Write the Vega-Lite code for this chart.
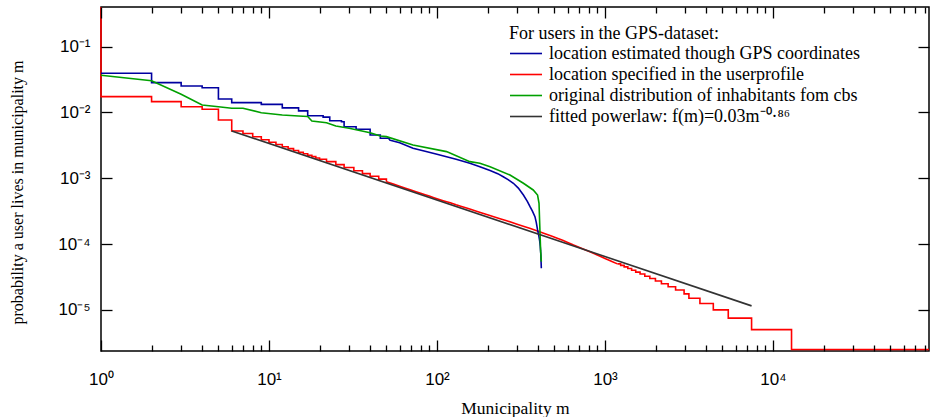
{
  "$schema": "https://vega.github.io/schema/vega-lite/v6.json",
  "width": 828,
  "height": 344,
  "autosize": {"type": "none"},
  "padding": {"left": 101, "top": 7, "right": 2, "bottom": 66},
  "background": "white",
  "config": {
    "view": {"stroke": "black", "strokeWidth": 1.5},
    "axis": {
      "domain": false, "grid": false, "tickColor": "black", "tickWidth": 1.3, "zindex": 2,
      "labelFont": "Liberation Sans", "labelFontSize": 17, "labelColor": "black",
      "titleFont": "Liberation Serif", "titleFontSize": 17, "titleFontWeight": "normal", "titleColor": "black",
      "labelFlush": false, "labelOverlap": false, "labelBound": false
    }
  },
  "data": {"values": [
    {"s":"red","m":1,"p":0.401},{"s":"red","m":1,"p":0.0174},{"s":"red","m":2,"p":0.0146},{"s":"red","m":3,"p":0.01225},
    {"s":"red","m":4,"p":0.0112},{"s":"red","m":5,"p":0.00769},{"s":"red","m":6,"p":0.00524},{"s":"red","m":7,"p":0.0048},
    {"s":"red","m":8,"p":0.00428},{"s":"red","m":9,"p":0.00386},{"s":"red","m":10,"p":0.00353},{"s":"red","m":11,"p":0.00326},
    {"s":"red","m":12,"p":0.00302},{"s":"red","m":13,"p":0.00282},{"s":"red","m":14,"p":0.00265},{"s":"red","m":15,"p":0.00249},
    {"s":"red","m":16,"p":0.00236},{"s":"red","m":17,"p":0.00224},{"s":"red","m":18,"p":0.00213},{"s":"red","m":19,"p":0.00203},
    {"s":"red","m":20,"p":0.00195},{"s":"red","m":22,"p":0.00179},{"s":"red","m":25,"p":0.00161},{"s":"red","m":28,"p":0.00146},
    {"s":"red","m":32,"p":0.0013},{"s":"red","m":36,"p":0.001175},{"s":"red","m":40,"p":0.001074},{"s":"red","m":45,"p":0.000971},
    {"s":"red","m":50,"p":0.000887},{"s":"red","m":55,"p":0.000817},{"s":"red","m":60,"p":0.000759},{"s":"red","m":65,"p":0.000708},
    {"s":"red","m":70,"p":0.000664},{"s":"red","m":75,"p":0.000625},{"s":"red","m":80,"p":0.000592},{"s":"red","m":85,"p":0.000562},
    {"s":"red","m":90,"p":0.000536},{"s":"red","m":95,"p":0.000511},{"s":"red","m":100,"p":0.000489},{"s":"red","m":110,"p":0.000453},
    {"s":"red","m":120,"p":0.000423},{"s":"red","m":130,"p":0.000395},{"s":"red","m":140,"p":0.000373},{"s":"red","m":150,"p":0.000352},
    {"s":"red","m":160,"p":0.000334},{"s":"red","m":170,"p":0.000318},{"s":"red","m":185,"p":0.000297},{"s":"red","m":200,"p":0.000279},
    {"s":"red","m":220,"p":0.000258},{"s":"red","m":240,"p":0.000241},{"s":"red","m":260,"p":0.000226},{"s":"red","m":280,"p":0.000212},
    {"s":"red","m":300,"p":0.0002},{"s":"red","m":330,"p":0.000185},{"s":"red","m":360,"p":0.000172},{"s":"red","m":400,"p":0.000157},
    {"s":"red","m":440,"p":0.000144},{"s":"red","m":480,"p":0.000133},{"s":"red","m":520,"p":0.000123},{"s":"red","m":560,"p":0.000114},
    {"s":"red","m":600,"p":0.000106},{"s":"red","m":650,"p":0.0000968},{"s":"red","m":700,"p":0.0000897},{"s":"red","m":780,"p":0.00008},
    {"s":"red","m":840,"p":0.0000736},{"s":"red","m":900,"p":0.0000682},{"s":"red","m":950,"p":0.0000641},{"s":"red","m":1000,"p":0.0000603},
    {"s":"red","m":1050,"p":0.0000571},{"s":"red","m":1100,"p":0.0000543},{"s":"red","m":1186,"p":0.00005},{"s":"red","m":1240,"p":0.0000475},
    {"s":"red","m":1301,"p":0.000045},{"s":"red","m":1368,"p":0.0000425},{"s":"red","m":1441,"p":0.00004},{"s":"red","m":1524,"p":0.0000375},
    {"s":"red","m":1618,"p":0.000035},{"s":"red","m":1726,"p":0.0000325},{"s":"red","m":1850,"p":0.00003},{"s":"red","m":1997,"p":0.0000275},
    {"s":"red","m":2168,"p":0.000025},{"s":"red","m":2377,"p":0.0000225},{"s":"red","m":2633,"p":0.00002},{"s":"red","m":2958,"p":0.0000175},
    {"s":"red","m":3160,"p":0.000015},{"s":"red","m":3675,"p":0.0000125},{"s":"red","m":4415,"p":0.00001},{"s":"red","m":5420,"p":0.0000075},
    {"s":"red","m":7460,"p":0.000005},{"s":"red","m":12900,"p":0.0000025},{"s":"red","m":84900,"p":0.0000025},

    {"s":"gps","m":1,"p":0.0394},{"s":"gps","m":2,"p":0.0284},{"s":"gps","m":3,"p":0.0253},{"s":"gps","m":4,"p":0.0238},
    {"s":"gps","m":5,"p":0.016},{"s":"gps","m":6,"p":0.0141},{"s":"gps","m":9,"p":0.0133},{"s":"gps","m":12,"p":0.01175},
    {"s":"gps","m":15,"p":0.01059},{"s":"gps","m":17,"p":0.00891},{"s":"gps","m":21,"p":0.00851},{"s":"gps","m":23,"p":0.0075},
    {"s":"gps","m":27,"p":0.00724},{"s":"gps","m":28,"p":0.00608},{"s":"gps","m":33,"p":0.00555},{"s":"gps","m":40,"p":0.00455},
    {"s":"gps","m":46,"p":0.00406},{"s":"gps","m":52,"p":0.00382},{"s":"gps","m":60,"p":0.00347},{"s":"gps","m":72,"p":0.00286},
    {"s":"gps","m":85,"p":0.00257},{"s":"gps","m":100,"p":0.00232},{"s":"gps","m":114,"p":0.00213},{"s":"gps","m":130,"p":0.00195},
    {"s":"gps","m":157,"p":0.00169},{"s":"gps","m":180,"p":0.0015},{"s":"gps","m":207,"p":0.00131},{"s":"gps","m":230,"p":0.001175},
    {"s":"gps","m":248,"p":0.001057},{"s":"gps","m":265,"p":0.000955},{"s":"gps","m":285,"p":0.000839},{"s":"gps","m":305,"p":0.000708},
    {"s":"gps","m":327,"p":0.000557},{"s":"gps","m":345,"p":0.000447},{"s":"gps","m":358,"p":0.00037},{"s":"gps","m":370,"p":0.000316},
    {"s":"gps","m":383,"p":0.000261},{"s":"gps","m":390,"p":0.000214},{"s":"gps","m":397,"p":0.000164},{"s":"gps","m":401,"p":0.000145},
    {"s":"gps","m":405,"p":0.000129},{"s":"gps","m":409,"p":0.00011},{"s":"gps","m":412,"p":0.0000912},{"s":"gps","m":415,"p":0.0000708},
    {"s":"gps","m":418,"p":0.0000429},

    {"s":"cbs","m":1,"p":0.0367},{"s":"cbs","m":2,"p":0.0304},{"s":"cbs","m":3,"p":0.0189},{"s":"cbs","m":4,"p":0.013},
    {"s":"cbs","m":5,"p":0.01225},{"s":"cbs","m":6,"p":0.01159},{"s":"cbs","m":7,"p":0.01159},{"s":"cbs","m":9,"p":0.00993},
    {"s":"cbs","m":12,"p":0.00916},{"s":"cbs","m":15,"p":0.00885},{"s":"cbs","m":17,"p":0.00871},{"s":"cbs","m":18,"p":0.00741},
    {"s":"cbs","m":22,"p":0.007},{"s":"cbs","m":25,"p":0.00624},{"s":"cbs","m":30,"p":0.00575},{"s":"cbs","m":40,"p":0.00493},
    {"s":"cbs","m":46,"p":0.0044},{"s":"cbs","m":50,"p":0.00429},{"s":"cbs","m":72,"p":0.00321},{"s":"cbs","m":114,"p":0.00254},
    {"s":"cbs","m":157,"p":0.00179},{"s":"cbs","m":180,"p":0.00169},{"s":"cbs","m":207,"p":0.0015},{"s":"cbs","m":272,"p":0.00112},
    {"s":"cbs","m":327,"p":0.000839},{"s":"cbs","m":374,"p":0.000664},{"s":"cbs","m":397,"p":0.000557},{"s":"cbs","m":405,"p":0.000417},
    {"s":"cbs","m":410,"p":0.000164},{"s":"cbs","m":414,"p":0.0000794},{"s":"cbs","m":418,"p":0.000054},

    {"s":"fit","m":6,"p":0.00524},{"s":"fit","m":7460,"p":0.0000115}
  ]},
  "encoding": {
    "x": {"field": "m", "type": "quantitative", "scale": {"type": "log", "domain": [1, 84900], "nice": false}, "axis": null},
    "y": {"field": "p", "type": "quantitative", "scale": {"type": "log", "domain": [0.00000237, 0.401], "nice": false}, "axis": null},
    "order": {"value": null},
    "color": {
      "field": "s", "type": "nominal",
      "scale": {"domain": ["gps", "red", "cbs", "fit"], "range": ["#0000a0", "#ff0000", "#00a000", "#333333"]},
      "legend": {
        "orient": "none", "legendX": 408, "legendY": 18,
        "title": "For users in the GPS-dataset:",
        "titleFont": "Liberation Serif", "titleFontSize": 18, "titleFontWeight": "normal", "titleColor": "black", "titlePadding": 0, "titleLimit": 600,
        "labelFont": "Liberation Serif", "labelFontSize": 18, "labelColor": "black", "labelLimit": 600, "labelOffset": 6,
        "symbolType": "stroke", "symbolSize": 1024, "symbolStrokeWidth": 1.6,
        "clipHeight": 21, "rowPadding": 0,
        "labelExpr": "datum.value == 'gps' ? 'location estimated though GPS coordinates' : datum.value == 'red' ? 'location specified in the userprofile' : datum.value == 'cbs' ? 'original distribution of inhabitants fom cbs' : 'fitted powerlaw: f(m)=0.03m⁻⁰·⁸⁶'"
      }
    }
  },
  "layer": [
    {
      "transform": [{"filter": "datum.s == 'red' && datum.m <= 50"}],
      "mark": {"type": "line", "interpolate": "step-after", "strokeWidth": 1.6},
      "encoding": {
        "x": {"field": "m", "type": "quantitative", "scale": {"type": "log", "domain": [1, 84900], "nice": false},
          "axis": {"orient": "bottom", "zindex": 2,
            "values": [1,2,3,4,5,6,7,8,9,10,20,30,40,50,60,70,80,90,100,200,300,400,500,600,700,800,900,1000,2000,3000,4000,5000,6000,7000,8000,9000,10000,20000,30000,40000,50000,60000,70000,80000],
            "labelExpr": "abs(log(datum.value)/LN10 - round(log(datum.value)/LN10)) < 0.001 ? '10' + ['⁰','¹','²','³','⁴'][round(log(datum.value)/LN10)] : ''",
            "tickSize": {"condition": {"test": "abs(log(datum.value)/LN10 - round(log(datum.value)/LN10)) < 0.001", "value": -11}, "value": -6},
            "labelPadding": 31, "labelBaseline": "top",
            "title": "Municipality m", "titleFontSize": 17.5, "titleY": 62, "titleBaseline": "alphabetic"}},
        "y": {"field": "p", "type": "quantitative", "scale": {"type": "log", "domain": [0.00000237, 0.401], "nice": false},
          "axis": {"orient": "left", "zindex": 2,
            "values": [0.1, 0.01, 0.001, 0.0001, 0.00001],
            "labelExpr": "'10⁻' + ['⁰','¹','²','³','⁴','⁵'][round(-log(datum.value)/LN10)]",
            "tickSize": -11, "labelPadding": 22,
            "title": "probability a user lives in municipality m", "titleFontSize": 16, "titleX": -79, "titleY": 185, "titleAngle": -90, "titleBaseline": "alphabetic", "titleAlign": "center"}}
      }
    },
    {
      "transform": [{"filter": "datum.s == 'red' && datum.m >= 50 && datum.m <= 1186"}],
      "mark": {"type": "line", "strokeWidth": 1.6},
      "encoding": {
        "x": {"field": "m", "type": "quantitative", "scale": {"type": "log", "domain": [1, 84900], "nice": false},
          "axis": {"orient": "top", "labels": false, "title": null, "zindex": 2,
            "values": [1,2,3,4,5,6,7,8,9,10,20,30,40,50,60,70,80,90,100,200,300,400,500,600,700,800,900,1000,2000,3000,4000,5000,6000,7000,8000,9000,10000,20000,30000,40000,50000,60000,70000,80000],
            "tickSize": {"condition": {"test": "abs(log(datum.value)/LN10 - round(log(datum.value)/LN10)) < 0.001", "value": -11}, "value": -6}}},
        "y": {"field": "p", "type": "quantitative", "scale": {"type": "log", "domain": [0.00000237, 0.401], "nice": false},
          "axis": {"orient": "right", "labels": false, "title": null, "zindex": 2, "values": [0.1, 0.01, 0.001, 0.0001, 0.00001], "tickSize": -11}}
      }
    },
    {
      "transform": [{"filter": "datum.s == 'red' && datum.m >= 1186"}],
      "mark": {"type": "line", "interpolate": "step-after", "strokeWidth": 1.6}
    },
    {
      "transform": [{"filter": "datum.s == 'gps' && datum.m <= 52"}],
      "mark": {"type": "line", "interpolate": "step-after", "strokeWidth": 1.6}
    },
    {
      "transform": [{"filter": "datum.s == 'gps' && datum.m >= 52"}],
      "mark": {"type": "line", "strokeWidth": 1.6}
    },
    {
      "transform": [{"filter": "datum.s == 'cbs'"}],
      "mark": {"type": "line", "strokeWidth": 1.6}
    },
    {
      "transform": [{"filter": "datum.s == 'fit'"}],
      "mark": {"type": "line", "strokeWidth": 1.6}
    }
  ],
  "resolve": {"axis": {"x": "independent", "y": "independent"}}
}
